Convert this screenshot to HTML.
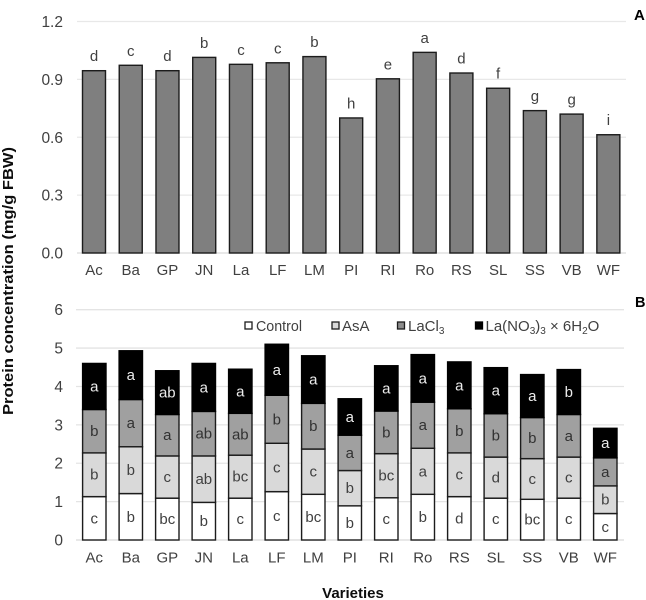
<!DOCTYPE html>
<html>
<head>
<meta charset="utf-8">
<title>Protein concentration by variety</title>
<style>
html,body{margin:0;padding:0;background:#fff;}
svg{display:block;}
text{font-family:"Liberation Sans",sans-serif;}
</style>
</head>
<body>
<svg id="chart" width="646" height="600" viewBox="0 0 646 600" xmlns="http://www.w3.org/2000/svg">
  <defs><filter id="soft" x="0" y="0" width="100%" height="100%"><feGaussianBlur stdDeviation="0.35"/></filter></defs>
  <rect width="646" height="600" fill="#fff"/>
  <g id="root" filter="url(#soft)">
    <g id="panelA"></g>
    <g id="panelB"></g>
    <text x="634" y="20" font-size="15" font-weight="bold" fill="#000">A</text>
    <text x="635" y="307" font-size="14.5" font-weight="bold" fill="#000">B</text>
    <text transform="translate(13 281) rotate(-90)" text-anchor="middle" font-size="14.5" font-weight="bold" fill="#111" textLength="268" lengthAdjust="spacingAndGlyphs">Protein concentration (mg/g FBW)</text>
    <text x="353" y="598" text-anchor="middle" font-size="15" font-weight="bold" fill="#111">Varieties</text>
    <g font-size="15" fill="#404040">
      <g>
        <rect x="245" y="322" width="7" height="7" fill="#fff" stroke="#1a1a1a" stroke-width="1.3"/>
        <text x="256" y="331" textLength="46" lengthAdjust="spacingAndGlyphs">Control</text>
      </g>
      <g>
        <rect x="332" y="322" width="7" height="7" fill="#d9d9d9" stroke="#1a1a1a" stroke-width="1.3"/>
        <text x="342" y="331">AsA</text>
      </g>
      <g>
        <rect x="397.500" y="322" width="7" height="7" fill="#8c8c8c" stroke="#1a1a1a" stroke-width="1.3"/>
        <text x="408" y="331">LaCl<tspan font-size="10" dy="3">3</tspan></text>
      </g>
      <g>
        <rect x="475.500" y="322" width="7" height="7" fill="#000" stroke="#000" stroke-width="1.3"/>
        <text x="485.500" y="331">La(NO<tspan font-size="10" dy="3">3</tspan><tspan dy="-3">)</tspan><tspan font-size="10" dy="3">3</tspan><tspan dy="-3"> × 6H</tspan><tspan font-size="10" dy="3">2</tspan><tspan dy="-3">O</tspan></text>
      </g>
    </g>
  </g>
</svg>
<script>
const categories = ["Ac","Ba","GP","JN","La","LF","LM","PI","RI","Ro","RS","SL","SS","VB","WF"];

const totalProtein = [0.945,0.973,0.945,1.014,0.978,0.986,1.018,0.70,0.903,1.04,0.933,0.854,0.738,0.72,0.613];
const totalLetters = ["d","c","d","b","c","c","b","h","e","a","d","f","g","g","i"];
const ticksA = ["0.0","0.3","0.6","0.9","1.2"];

const controlValues = [1.13,1.21,1.09,0.98,1.09,1.26,1.19,0.89,1.10,1.19,1.13,1.09,1.06,1.09,0.69];
const asaValues     = [1.14,1.22,1.10,1.21,1.12,1.26,1.18,0.92,1.15,1.20,1.14,1.07,1.06,1.07,0.72];
const laclValues    = [1.13,1.23,1.08,1.16,1.09,1.25,1.19,0.92,1.11,1.20,1.15,1.13,1.07,1.11,0.73];
const lanoValues    = [1.20,1.27,1.14,1.25,1.15,1.33,1.24,0.95,1.18,1.24,1.22,1.20,1.12,1.17,0.77];

const controlLetters = ["c","b","bc","b","c","c","bc","b","c","b","d","c","bc","c","c"];
const asaLetters     = ["b","b","c","ab","bc","c","c","b","bc","a","c","d","c","c","b"];
const laclLetters    = ["b","a","a","ab","ab","b","b","a","b","a","b","b","b","a","a"];
const lanoLetters    = ["a","a","ab","a","a","a","a","a","a","a","a","a","a","b","a"];
const ticksB = ["0","1","2","3","4","5","6"];

const NS = "http://www.w3.org/2000/svg";
function make(parent, tag, attrs, txt) {
  const el = document.createElementNS(NS, tag);
  for (const k in attrs) el.setAttribute(k, attrs[k]);
  if (txt !== undefined) el.textContent = txt;
  parent.appendChild(el);
  return el;
}

/* ---------- Panel A ---------- */
const panelA = document.getElementById("panelA");
const yA = v => 253 - (v / 1.2) * 231.5;
const xA = i => 94 + i * 36.74;

ticksA.forEach(t => {
  const v = parseFloat(t);
  const line = make(panelA, "line", {x1:77, x2:626, y1:yA(v), y2:yA(v), stroke: v === 0 ? "#d9d9d9" : "#e8e8e8", "stroke-width":1.3});
  
  
  const label = make(panelA, "text", {x:63, y:yA(v)+5.5, "text-anchor":"end", "font-size":15.5, fill:"#404040"}, t);
  
  
});

categories.forEach((c, i) => {
  const top = yA(totalProtein[i]);
  const bar = make(panelA, "rect", {x:xA(i)-11.5, y:top, width:23, height:253-top, fill:"#7f7f7f", stroke:"#1a1a1a", "stroke-width":1.4});
  
  
  const letter = make(panelA, "text", {x:xA(i), y:top-9.5, "text-anchor":"middle", "font-size":15, fill:"#404040"}, totalLetters[i]);
  
  
  const label = make(panelA, "text", {x:xA(i), y:275, "text-anchor":"middle", "font-size":15, fill:"#404040"}, c);
  
  
});

/* ---------- Panel B ---------- */
const panelB = document.getElementById("panelB");
const yB = v => 540 - (v / 6) * 230.3;
const xB = i => 94.3 + i * 36.5;

ticksB.forEach(t => {
  const v = parseFloat(t);
  const line = make(panelB, "line", {x1:76, x2:624, y1:yB(v), y2:yB(v), stroke: v === 0 ? "#d9d9d9" : "#e4e4e4", "stroke-width":1.3});
  
  
  const label = make(panelB, "text", {x:63, y:yB(v)+5.5, "text-anchor":"end", "font-size":15.5, fill:"#404040"}, t);
  
  
});

const stackValues = [controlValues, asaValues, laclValues, lanoValues];
const stackLetters = [controlLetters, asaLetters, laclLetters, lanoLetters];
const stackFills = ["#ffffff", "#d9d9d9", "#a0a0a0", "#000000"];
const letterFills = ["#404040", "#404040", "#303030", "#ececec"];

categories.forEach((c, i) => {
  let base = 0;
  stackValues.forEach((series, s) => {
    const v = series[i];
    const y0 = yB(base), y1 = yB(base + v);
    const seg = make(panelB, "rect", {x:xB(i)-11.7, y:y1, width:23.4, height:y0-y1, fill:stackFills[s], stroke: s === 3 ? "#000" : "#1a1a1a", "stroke-width":1.4});
    
    
    const letter = make(panelB, "text", {x:xB(i), y:(y0+y1)/2+5, "text-anchor":"middle", "font-size":15, fill:letterFills[s]}, stackLetters[s][i]);
    
    
    base += v;
  });
  const label = make(panelB, "text", {x:xB(i), y:562.5, "text-anchor":"middle", "font-size":15, fill:"#404040"}, c);
  
  
});
</script>
</body>
</html>
